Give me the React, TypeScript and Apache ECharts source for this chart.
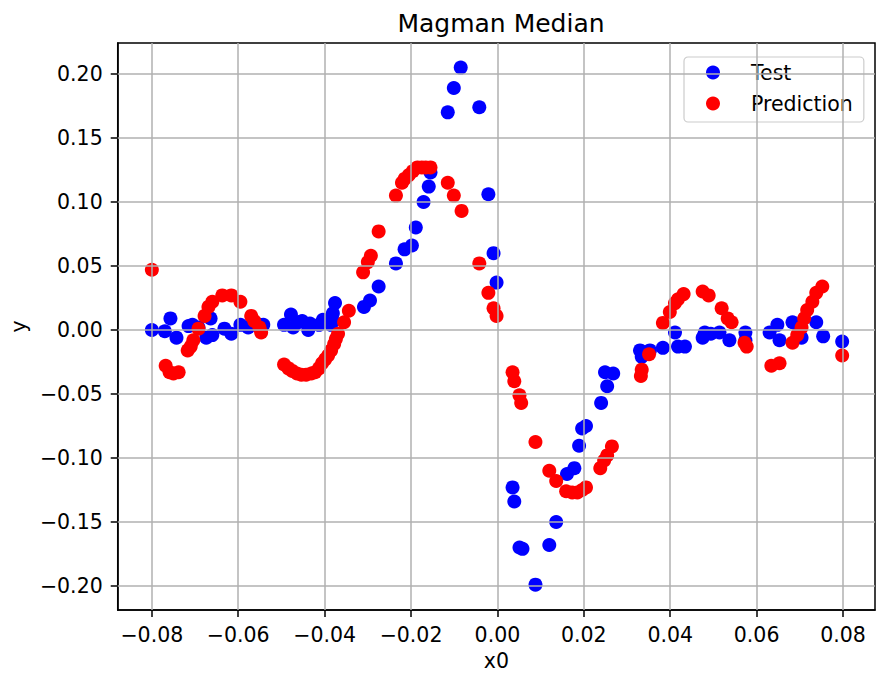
import React, { useEffect, useRef } from 'react';
import * as echarts from 'echarts';

const titleText = 'Magman Median';
const xName = 'x0';
const yName = 'y';
const seriesNames = ['Test', 'Prediction'];

const xTicks = [-0.08, -0.06, -0.04, -0.02, 0.0, 0.02, 0.04, 0.06, 0.08];
const yTicks = [-0.2, -0.15, -0.1, -0.05, 0.0, 0.05, 0.1, 0.15, 0.2];

const testX = [
  -0.08, -0.077, -0.0757, -0.0743, -0.0715, -0.0706, -0.0692, -0.0674, -0.0664, -0.066,
  -0.0632, -0.0616, -0.0595, -0.0577, -0.0551, -0.0542,
  -0.0494, -0.0478, -0.0473, -0.0461, -0.0452, -0.0438, -0.0434, -0.0413, -0.0404, -0.0385,
  -0.0381, -0.0376, -0.0383, -0.0309, -0.0295, -0.0275, -0.0235, -0.0215, -0.0198, -0.0189,
  -0.0171, -0.0159, -0.0155, -0.0115, -0.0101, -0.0085, -0.0042, -0.0021, -0.0009, -0.0002,
  0.0035, 0.0039, 0.0051, 0.0058, 0.0088, 0.012, 0.0136, 0.0161, 0.0178, 0.0189,
  0.0196, 0.0205, 0.024, 0.0254, 0.0249, 0.0268, 0.033, 0.0334, 0.0353, 0.0383,
  0.0411, 0.0418, 0.0434, 0.0475, 0.048, 0.0494, 0.0514, 0.0537, 0.0574, 0.0574,
  0.063, 0.0648, 0.0653, 0.0683, 0.0699, 0.0704, 0.0738, 0.0754, 0.0798,
];
const testY = [
  0.0, -0.001, 0.009, -0.006, 0.003, 0.004, 0.002, -0.006, 0.009, -0.004,
  0.001, -0.003, 0.004, 0.002, 0.004, 0.004,
  0.004, 0.012, 0.002, 0.006, 0.007, 0.0, 0.005, 0.004, 0.008, 0.004,
  0.013, 0.021, 0.009, 0.018, 0.023, 0.034, 0.052, 0.063, 0.066, 0.08,
  0.1, 0.112, 0.123, 0.17, 0.189, 0.205, 0.174, 0.106, 0.06, 0.037,
  -0.123, -0.134, -0.17, -0.171, -0.199, -0.168, -0.15, -0.1125, -0.108, -0.0905,
  -0.077, -0.075, -0.057, -0.044, -0.033, -0.034, -0.016, -0.021, -0.016, -0.014,
  -0.002, -0.013, -0.013, -0.006, -0.002, -0.003, -0.002, -0.008, -0.002, -0.008,
  -0.002, 0.004, -0.008, 0.006, 0.0, -0.006, 0.006, -0.005, -0.009,
];

const predX = [
  -0.08, -0.0768, -0.0759, -0.075, -0.0738, -0.0717, -0.071, -0.0704, -0.0692, -0.0678,
  -0.0669, -0.066, -0.0637, -0.0616, -0.0595, -0.057, -0.0563, -0.0551, -0.0547,
  -0.0494, -0.0484, -0.0475, -0.0464, -0.0454, -0.0443, -0.0431, -0.0422, -0.0413, -0.0406,
  -0.0399, -0.0392, -0.0385, -0.0378, -0.0374, -0.0369, -0.0355, -0.0344, -0.0311, -0.03,
  -0.0293, -0.0275, -0.0235, -0.0221, -0.0215, -0.0205, -0.0196, -0.0185, -0.0175, -0.0166,
  -0.0155, -0.0115, -0.0101, -0.0083, -0.0042, -0.0021, -0.0009, -0.0002,
  0.0035, 0.0039, 0.0051, 0.0055, 0.0088, 0.012, 0.0136, 0.0159, 0.0173, 0.0185,
  0.0196, 0.0205, 0.0238, 0.0247, 0.0254, 0.0265, 0.0332, 0.0334, 0.0351, 0.0383,
  0.0399, 0.0411, 0.0418, 0.0431, 0.0475, 0.0489, 0.0519, 0.0533, 0.0542, 0.0572,
  0.0577, 0.0634, 0.0653, 0.0683, 0.0694, 0.0704, 0.071, 0.0717, 0.0729, 0.0738,
  0.0752, 0.0798,
];
const predY = [
  0.047, -0.028, -0.033, -0.034, -0.033, -0.016, -0.013, -0.008, 0.001, 0.011,
  0.018, 0.022, 0.027, 0.027, 0.022, 0.011, 0.007, 0.002, -0.002,
  -0.027, -0.03, -0.032, -0.034, -0.035, -0.035, -0.034, -0.033, -0.03, -0.026,
  -0.023, -0.02, -0.016, -0.011, -0.007, -0.003, 0.006, 0.015, 0.045, 0.053,
  0.058, 0.077, 0.105, 0.115, 0.118, 0.121, 0.124, 0.127, 0.127, 0.127,
  0.127, 0.115, 0.105, 0.093, 0.052, 0.029, 0.017, 0.011,
  -0.033, -0.04, -0.051, -0.057, -0.0875, -0.11, -0.118, -0.126, -0.127, -0.127,
  -0.125, -0.123, -0.108, -0.102, -0.098, -0.091, -0.036, -0.031, -0.019, 0.0055,
  0.014, 0.021, 0.024, 0.028, 0.03, 0.027, 0.017, 0.009, 0.006, -0.01,
  -0.013, -0.028, -0.026, -0.01, -0.004, 0.002, 0.009, 0.0155, 0.022, 0.029,
  0.034, -0.02,
];

const FONT = 'DejaVu Sans';

function fmt(v: number): string {
  const s = Math.abs(v).toFixed(2);
  return v < -1e-9 ? '\u2212' + s : s;
}

export default function App() {
  const ref = useRef<HTMLDivElement>(null);
  useEffect(() => {
    if (!ref.current) return;
    const chart = echarts.init(ref.current, null, { renderer: 'svg' });
    const testData = testX.map((x, i) => [x, testY[i]]);
    const predData = predX.map((x, i) => [x, predY[i]]);
    const axisCommon = {
      type: 'value' as const,
      splitLine: { show: false },
      axisLine: { show: true, onZero: false, lineStyle: { color: '#000', width: 1.5 } },
      axisTick: { show: true, inside: false, length: 7, lineStyle: { color: '#000', width: 1.5 } },
      nameLocation: 'middle' as const,
      nameTextStyle: { fontSize: 20.5, color: '#000', fontFamily: FONT },
    };
    chart.setOption({
      animation: false,
      backgroundColor: '#fff',
      title: {
        text: titleText,
        left: 496,
        textAlign: 'center',
        top: 6,
        textStyle: { fontSize: 25, fontWeight: 'normal', color: '#000', fontFamily: FONT },
      },
      grid: {
        left: 116,
        top: 43,
        right: 1,
        bottom: 68,
        show: true,
        borderColor: '#000',
        borderWidth: 1.5,
        backgroundColor: 'transparent',
      },
      legend: {
        data: seriesNames,
        orient: 'vertical',
        left: 684,
        top: 57,
        padding: [5, 11, 8, 22],
        itemWidth: 14,
        itemHeight: 14,
        itemGap: 10,
        icon: 'circle',
        borderColor: '#cccccc',
        borderWidth: 1.2,
        borderRadius: 4,
        backgroundColor: 'rgba(255,255,255,0.8)',
        textStyle: {
          fontSize: 20.5,
          color: '#000',
          fontFamily: FONT,
          lineHeight: 21,
          padding: [0, 0, 0, 26],
        },
      },
      xAxis: {
        ...axisCommon,
        min: -0.0879,
        max: 0.0874,
        name: xName,
        nameGap: 40,
        axisTick: { ...axisCommon.axisTick, customValues: xTicks },
        axisLabel: {
          customValues: xTicks,
          formatter: fmt,
          fontSize: 20.5,
          color: '#000',
          fontFamily: FONT,
          margin: 14,
        },
      },
      yAxis: {
        ...axisCommon,
        min: -0.2188,
        max: 0.2242,
        name: yName,
        nameGap: 88,
        axisTick: { ...axisCommon.axisTick, customValues: yTicks },
        axisLabel: {
          customValues: yTicks,
          formatter: fmt,
          fontSize: 20.5,
          color: '#000',
          fontFamily: FONT,
          margin: 15,
        },
      },
      series: [
        {
          name: 'gridlines',
          type: 'scatter',
          data: [],
          z: 0,
          silent: true,
          markLine: {
            silent: true,
            symbol: 'none',
            label: { show: false },
            lineStyle: { color: '#b0b0b0', width: 1.5, type: 'solid' },
            data: [
              ...xTicks.map((v) => ({ xAxis: v })),
              ...yTicks.map((v) => ({ yAxis: v })),
            ],
          },
        },
        {
          name: seriesNames[0],
          type: 'scatter',
          data: testData,
          symbol: 'circle',
          symbolSize: 14,
          itemStyle: { color: '#0000ff', opacity: 1 },
          z: 2,
        },
        {
          name: seriesNames[1],
          type: 'scatter',
          data: predData,
          symbol: 'circle',
          symbolSize: 14,
          itemStyle: { color: '#ff0000', opacity: 1 },
          z: 3,
        },
      ],
    });
    return () => chart.dispose();
  }, []);
  return (
    <div
      ref={ref}
      style={{ position: 'fixed', left: 0, top: 0, width: 876, height: 678 }}
    />
  );
}
